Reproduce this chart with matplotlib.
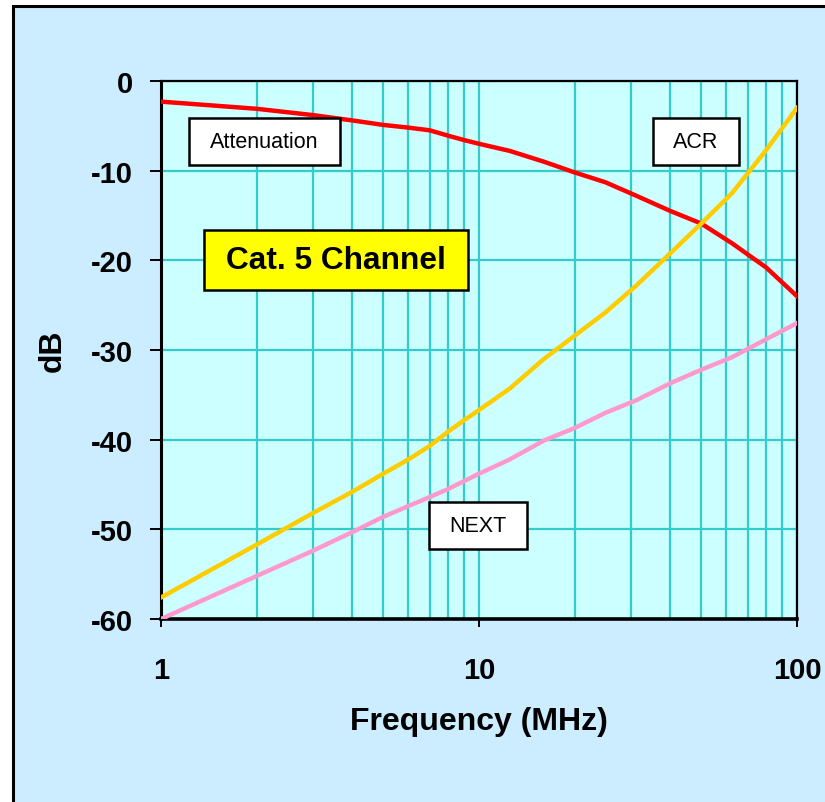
import numpy as np
import matplotlib
matplotlib.use('Agg')
import matplotlib.pyplot as plt
from matplotlib.patches import Rectangle
from matplotlib.ticker import FixedLocator, LogLocator, NullFormatter

plt.rcParams['font.family'] = ['Liberation Sans', 'DejaVu Sans']
plt.rcParams['axes.unicode_minus'] = False

# частоты, МГц
freq = [1, 2, 3, 4, 5, 6, 7, 8, 9, 10, 12.5, 16, 20, 25, 31.25, 40, 50, 62.5, 80, 100]

# затухание, дБ
attenuation = [-2.3, -3.1, -3.8, -4.4, -4.9, -5.2, -5.5, -6.1, -6.6, -7.0,
               -7.8, -9.0, -10.2, -11.3, -12.8, -14.5, -15.9, -18.1, -20.8, -24.0]

# переходное затухание на ближнем конце (NEXT), дБ
next_loss = [-60.0, -55.2, -52.4, -50.3, -48.6, -47.4, -46.4, -45.5, -44.6, -43.8,
             -42.2, -40.1, -38.7, -37.0, -35.6, -33.7, -32.2, -30.8, -28.8, -27.0]

# защищённость (ACR), дБ
acr = [-57.6, -51.7, -48.2, -45.8, -43.8, -42.2, -40.7, -39.1, -37.8, -36.7,
       -34.3, -31.0, -28.4, -25.8, -22.8, -19.2, -15.9, -12.5, -7.7, -3.0]

y_ticks = [0, -10, -20, -30, -40, -50, -60]
x_ticks = [1, 10, 100]
x_tick_labels = ['1', '10', '100']

fig = plt.figure(figsize=(8.25, 8.03), dpi=100)
fig.patch.set_facecolor('white')

# рамка и фон всей диаграммы
fig.patches.append(Rectangle((13 / 825, -0.05), 1.1, 1 - 7 / 803 + 0.05,
                             transform=fig.transFigure, facecolor='#CCECFF',
                             edgecolor='black', linewidth=2.2, zorder=-5))

ax = fig.add_axes([161 / 825, 1 - 620 / 803, 636 / 825, 538 / 803])
ax.set_facecolor('#CCFFFF')
ax.set_xscale('log')
ax.set_xlim(1, 100)
ax.set_ylim(-60, 0)

# сетка
ax.xaxis.set_major_locator(FixedLocator(x_ticks))
ax.xaxis.set_minor_locator(LogLocator(base=10, subs=np.arange(2, 10)))
ax.xaxis.set_minor_formatter(NullFormatter())
ax.set_xticklabels(x_tick_labels)
ax.set_yticks(y_ticks)
ax.grid(which='both', axis='x', color='#33CCCC', linewidth=1.6)
ax.grid(which='major', axis='y', color='#33CCCC', linewidth=1.6)
ax.set_axisbelow(True)

ax.plot(freq, attenuation, color='#FF0000', linewidth=3.2, zorder=3)
ax.plot(freq, acr, color='#FFCC00', linewidth=3.2, zorder=3)
ax.plot(freq, next_loss, color='#FF99CC', linewidth=3.2, zorder=3)

ax.tick_params(axis='y', which='major', direction='out', length=8, width=1.4,
               pad=12, labelsize=21)
ax.tick_params(axis='x', which='major', direction='out', length=6, width=1.4,
               pad=21, labelsize=21)
ax.tick_params(axis='x', which='minor', length=0)
for lab in ax.get_xticklabels() + ax.get_yticklabels():
    lab.set_fontweight('bold')

for side in ['top', 'right']:
    ax.spines[side].set_linewidth(1.6)
ax.spines['left'].set_linewidth(2.2)
ax.spines['bottom'].set_linewidth(2.6)

ax.set_xlabel('Frequency (MHz)', fontsize=23, fontweight='bold', va='center')
ax.xaxis.set_label_coords(0.5, -0.19)
ax.set_ylabel('dB', fontsize=23, fontweight='bold', va='center')
ax.yaxis.set_label_coords(-0.17, 0.5)


# подписи в рамках
def label_box(x0, y0, x1, y1, text, face='white', size=15.5, weight='normal'):
    ax.add_patch(Rectangle((x0, y0), x1 - x0, y1 - y0, transform=ax.transAxes,
                           facecolor=face, edgecolor='black', linewidth=1.8,
                           zorder=5, clip_on=False))
    ax.text((x0 + x1) / 2, (y0 + y1) / 2, text, transform=ax.transAxes,
            ha='center', va='center', fontsize=size, fontweight=weight, zorder=6)


label_box(0.044, 0.844, 0.281, 0.931, 'Attenuation')
label_box(0.773, 0.844, 0.909, 0.931, 'ACR')
label_box(0.421, 0.130, 0.575, 0.217, 'NEXT')
label_box(0.068, 0.612, 0.483, 0.723, 'Cat. 5 Channel', face='#FFFF00',
          size=22.8, weight='bold')

fig.savefig('out.png', dpi=100)
